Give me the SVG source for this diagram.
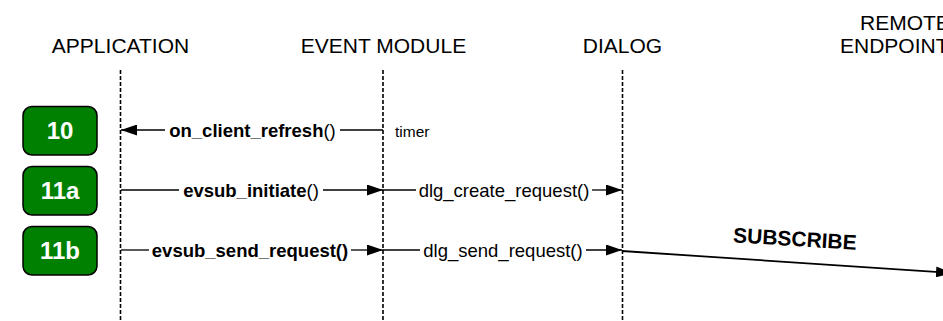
<svg xmlns="http://www.w3.org/2000/svg" width="943" height="321" viewBox="0 0 943 321">
  <style>
    .hdr { font-family: "Liberation Sans", Arial, sans-serif; font-size: 21px; fill: #000; text-anchor: middle; }
    .lbl { font-family: "Liberation Sans", Arial, sans-serif; font-size: 18.5px; fill: #000; text-anchor: middle; }
    .b { font-weight: bold; }
    .small { font-family: "Liberation Sans", Arial, sans-serif; font-size: 15.5px; fill: #000; }
    .life { stroke: #000; stroke-width: 1.6; stroke-dasharray: 4 2; fill: none; }
    .msg { stroke: #000; stroke-width: 1.3; fill: none; }
    .step rect { fill: #008000; stroke: #000; stroke-width: 1.5; }
    .step text { font-family: "Liberation Sans", Arial, sans-serif; font-size: 24px; font-weight: bold; fill: #fff; text-anchor: middle; }
  </style>
  <defs>
    <marker id="arrow" viewBox="0 0 16 11" refX="16" refY="5.5" markerWidth="16" markerHeight="11" markerUnits="userSpaceOnUse" orient="auto">
      <path d="M0,0 L16,5.5 L0,11 z" fill="#000"/>
    </marker>
  </defs>
  <rect width="943" height="321" fill="#fff"/>

  <!-- participants -->
  <g id="application">
    <text class="hdr" x="120.5" y="53">APPLICATION</text>
    <line class="life" x1="120.5" y1="70" x2="120.5" y2="321"/>
  </g>
  <g id="event-module">
    <text class="hdr" x="383.5" y="53">EVENT MODULE</text>
    <line class="life" x1="383" y1="70" x2="383" y2="321"/>
  </g>
  <g id="dialog">
    <text class="hdr" x="622.5" y="53">DIALOG</text>
    <line class="life" x1="622.5" y1="70" x2="622.5" y2="321"/>
  </g>
  <g id="remote-endpoint">
    <text class="hdr" style="text-anchor:start" x="860" y="30">REMOTE</text>
    <text class="hdr" style="text-anchor:start" x="840" y="53">ENDPOINT</text>
  </g>

  <!-- step badges -->
  <g id="step-10" class="step">
    <rect x="23" y="106.5" width="74" height="48.5" rx="9"/>
    <text x="60" y="138.5">10</text>
  </g>
  <g id="step-11a" class="step">
    <rect x="23" y="166.5" width="74" height="48.5" rx="9"/>
    <text x="60" y="198.5">11a</text>
  </g>
  <g id="step-11b" class="step">
    <rect x="23" y="226.5" width="74" height="48.5" rx="9"/>
    <text x="60" y="258.5">11b</text>
  </g>

  <!-- messages -->
  <g id="connectors">
    <!-- 10: timer fires on_client_refresh() back to the application -->
    <line class="msg" x1="383" y1="130" x2="340" y2="130"/>
    <line class="msg" x1="165" y1="130" x2="121" y2="130" marker-end="url(#arrow)"/>
    <text class="lbl" x="252.5" y="137"><tspan class="b">on_client_refresh</tspan>()</text>
    <text class="small" x="395" y="137">timer</text>

    <!-- 11a: evsub_initiate() -> dlg_create_request() -->
    <line class="msg" x1="121" y1="190" x2="179" y2="190"/>
    <line class="msg" x1="323" y1="190" x2="383" y2="190" marker-end="url(#arrow)"/>
    <text class="lbl" x="251" y="197"><tspan class="b">evsub_initiate</tspan>()</text>
    <line class="msg" x1="383" y1="190" x2="416" y2="190"/>
    <line class="msg" x1="592" y1="190" x2="622" y2="190" marker-end="url(#arrow)"/>
    <text class="lbl" x="504" y="197">dlg_create_request()</text>

    <!-- 11b: evsub_send_request() -> dlg_send_request() -> SUBSCRIBE -->
    <line class="msg" x1="121" y1="250" x2="149" y2="250"/>
    <line class="msg" x1="351" y1="250" x2="383" y2="250" marker-end="url(#arrow)"/>
    <text class="lbl b" x="250" y="257">evsub_send_request()</text>
    <line class="msg" x1="383" y1="250" x2="420" y2="250"/>
    <line class="msg" x1="586" y1="250" x2="622" y2="250" marker-end="url(#arrow)"/>
    <text class="lbl" x="503" y="257">dlg_send_request()</text>

    <line class="msg" style="stroke-width:1.8" x1="622" y1="251" x2="952" y2="273" marker-end="url(#arrow)"/>
    <text class="hdr b" x="794.5" y="246" transform="rotate(3.5 794.5 246)">SUBSCRIBE</text>
  </g>
</svg>
